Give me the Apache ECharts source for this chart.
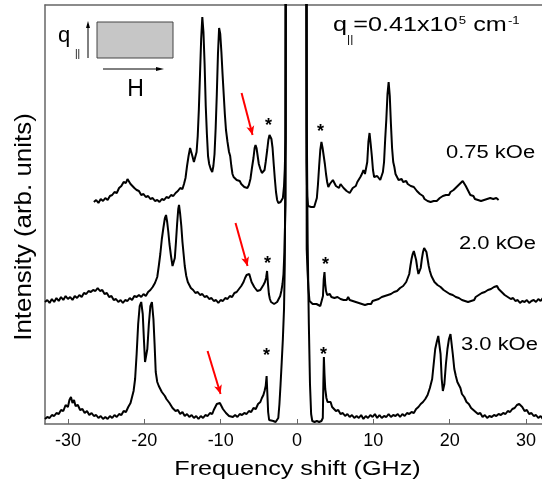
<!DOCTYPE html>
<html><head><meta charset="utf-8">
<script src="https://cdn.jsdelivr.net/npm/echarts@6/dist/echarts.min.js"></script>
<style>html,body{margin:0;padding:0;background:#fff}#c{width:542px;height:488px}</style>
</head><body><div id="c"></div>
<script>
const FONT = '"Liberation Sans", Arial, Helvetica, sans-serif';

// x-axis tick labels (GHz)
const xTicks = [-30, -20, -10, 0, 10, 20, 30];
const fieldLabels = ['0.75 kOe', '2.0 kOe', '3.0 kOe'];

// spectra: [frequency shift (GHz), intensity (arb. units, vertically offset)]
const spec075 = [[-26.6,222],[-26.3,224],[-26.0,221],[-25.7,225],[-25.4,223],[-25.1,226],[-24.8,224],[-24.5,228],[-24.2,229],[-23.9,232],[-23.6,231],[-23.3,236],[-23.0,238],[-22.7,242],[-22.4,241],[-22.2,245],[-22.0,243],[-21.8,240],[-21.6,241],[-21.3,236],[-21.0,234],[-20.7,233],[-20.4,229],[-20.1,230],[-19.8,227],[-19.5,228],[-19.2,225],[-18.9,226],[-18.6,223],[-18.3,224],[-18.0,222],[-17.7,225],[-17.4,224],[-17.1,227],[-16.8,226],[-16.5,229],[-16.2,228],[-15.9,231],[-15.6,233],[-15.3,236],[-15.0,235],[-14.8,240],[-14.6,246],[-14.4,258],[-14.2,268],[-14.0,276],[-13.85,277],[-13.7,268],[-13.5,262],[-13.3,261],[-13.15,272],[-13.0,288],[-12.85,315],[-12.7,350],[-12.55,385],[-12.4,407],[-12.25,392],[-12.1,360],[-11.95,318],[-11.8,290],[-11.65,268],[-11.5,260],[-11.3,255],[-11.1,252],[-10.95,258],[-10.8,270],[-10.65,296],[-10.5,330],[-10.35,370],[-10.2,396],[-10.05,390],[-9.9,372],[-9.75,350],[-9.6,330],[-9.45,310],[-9.3,294],[-9.1,282],[-8.9,272],[-8.75,268],[-8.6,258],[-8.45,250],[-8.3,247],[-8.1,245],[-7.9,244],[-7.7,242],[-7.5,243],[-7.3,240],[-7.1,239],[-6.9,237],[-6.7,238],[-6.5,236],[-6.3,239],[-6.1,245],[-5.9,256],[-5.7,266],[-5.55,276],[-5.43,279],[-5.3,276],[-5.15,268],[-5.0,260],[-4.8,255],[-4.6,251],[-4.4,249],[-4.25,254],[-4.1,262],[-3.9,274],[-3.75,284],[-3.6,289],[-3.47,291],[-3.35,285],[-3.2,276],[-3.05,260],[-2.9,245],[-2.75,232],[-2.6,224],[-2.45,221],[-2.3,220],[-2.15,222],[-2.0,221],[-1.85,226],[-1.7,238],[-1.6,255],[-1.5,285],[-1.42,700],[-0.15,30000],[1.18,700],[1.25,262],[1.33,228],[1.45,218],[1.65,216],[1.85,217],[2.05,215],[2.25,217],[2.45,218],[2.6,226],[2.75,240],[2.9,258],[3.05,274],[3.2,282],[3.35,276],[3.5,268],[3.65,260],[3.8,250],[3.95,242],[4.1,237],[4.3,240],[4.5,242],[4.7,244],[4.9,241],[5.1,238],[5.3,237],[5.5,236],[5.7,240],[5.9,241],[6.1,236],[6.3,234],[6.5,233],[6.7,231],[6.9,231],[7.1,233],[7.3,236],[7.5,235],[7.7,238],[7.9,242],[8.1,244],[8.3,247],[8.5,250],[8.7,254],[8.9,250],[9.05,248],[9.2,262],[9.35,282],[9.5,291],[9.65,280],[9.8,268],[9.95,254],[10.1,247],[10.3,249],[10.5,248],[10.7,246],[10.9,244],[11.1,245],[11.25,252],[11.4,262],[11.55,285],[11.7,305],[11.85,330],[12.0,342],[12.15,328],[12.3,300],[12.45,276],[12.6,262],[12.75,257],[12.9,250],[13.1,248],[13.3,244],[13.5,246],[13.7,245],[13.9,242],[14.1,241],[14.3,243],[14.5,240],[14.7,241],[14.9,238],[15.1,239],[15.3,237],[15.5,236],[15.7,233],[15.9,231],[16.1,230],[16.3,228],[16.5,228],[16.7,225],[16.9,226],[17.1,223],[17.3,225],[17.5,222],[17.7,224],[17.9,223],[18.1,225],[18.3,223],[18.5,224],[18.7,226],[18.9,225],[19.1,228],[19.3,227],[19.5,229],[19.7,230],[19.9,229],[20.1,232],[20.3,231],[20.5,234],[20.7,235],[20.9,237],[21.1,238],[21.3,240],[21.5,241],[21.7,243],[21.9,241],[22.1,238],[22.3,235],[22.5,232],[22.7,229],[22.9,227],[23.1,228],[23.3,225],[23.5,226],[23.7,224],[23.9,226],[24.1,223],[24.3,225],[24.5,224],[24.7,222],[24.9,225],[25.1,223],[25.3,226],[25.5,224],[25.7,225],[25.9,223],[26.1,226],[26.4,224]];

const spec20 = [[-33.0,122],[-32.7,124],[-32.4,121],[-32.1,125],[-31.8,122],[-31.5,126],[-31.2,123],[-30.9,127],[-30.6,124],[-30.3,128],[-30.0,125],[-29.7,127],[-29.4,124],[-29.1,128],[-28.8,126],[-28.5,129],[-28.2,127],[-27.9,131],[-27.6,130],[-27.3,133],[-27.0,132],[-26.7,134],[-26.4,133],[-26.1,136],[-25.8,133],[-25.5,134],[-25.2,130],[-24.9,131],[-24.6,127],[-24.3,128],[-24.0,124],[-23.7,125],[-23.4,122],[-23.1,124],[-22.8,121],[-22.5,124],[-22.2,123],[-21.9,126],[-21.6,124],[-21.3,128],[-21.0,127],[-20.7,129],[-20.4,127],[-20.1,130],[-19.8,128],[-19.5,132],[-19.2,134],[-18.9,137],[-18.6,141],[-18.3,147],[-18.1,158],[-17.9,170],[-17.7,185],[-17.5,196],[-17.3,206],[-17.15,209],[-17.0,202],[-16.85,192],[-16.7,180],[-16.5,168],[-16.3,158],[-16.15,157],[-16.0,166],[-15.85,182],[-15.7,200],[-15.55,215],[-15.45,219],[-15.3,210],[-15.15,198],[-15.0,182],[-14.85,170],[-14.7,158],[-14.5,148],[-14.3,142],[-14.1,139],[-13.9,136],[-13.6,134],[-13.3,131],[-13.0,132],[-12.7,129],[-12.4,130],[-12.1,127],[-11.8,128],[-11.5,125],[-11.2,126],[-10.9,123],[-10.6,124],[-10.3,121],[-10.0,124],[-9.7,123],[-9.4,126],[-9.1,125],[-8.8,128],[-8.5,127],[-8.2,131],[-7.9,132],[-7.6,135],[-7.3,138],[-7.0,142],[-6.8,146],[-6.6,149],[-6.4,151],[-6.25,150],[-6.1,146],[-5.95,142],[-5.8,140],[-5.6,137],[-5.4,135],[-5.2,133],[-5.0,132],[-4.8,134],[-4.6,136],[-4.4,139],[-4.2,142],[-4.05,146],[-3.92,153],[-3.8,140],[-3.68,130],[-3.55,125],[-3.4,122],[-3.2,121],[-3.0,120],[-2.8,121],[-2.6,122],[-2.4,124],[-2.2,128],[-2.05,133],[-1.9,140],[-1.77,150],[-1.65,172],[-1.5,220],[-1.43,700],[-0.15,30000],[1.2,700],[1.27,175],[1.37,154],[1.5,135],[1.64,123],[1.85,121],[2.05,120],[2.3,119],[2.55,120],[2.8,119],[3.05,118],[3.25,119],[3.4,128],[3.5,145],[3.6,152],[3.7,140],[3.8,133],[3.95,129],[4.1,128],[4.3,130],[4.5,127],[4.7,129],[4.9,126],[5.1,128],[5.3,127],[5.5,129],[5.7,125],[5.9,127],[6.1,124],[6.3,126],[6.5,124],[6.7,127],[6.9,124],[7.1,126],[7.3,123],[7.5,125],[7.7,122],[7.9,124],[8.1,121],[8.3,123],[8.5,120],[8.7,122],[8.9,119],[9.1,121],[9.3,120],[9.5,122],[9.7,120],[9.9,123],[10.1,121],[10.3,124],[10.5,123],[10.7,125],[10.9,124],[11.1,127],[11.3,126],[11.5,128],[11.7,127],[11.9,129],[12.1,128],[12.3,130],[12.5,129],[12.7,132],[12.9,131],[13.1,133],[13.3,134],[13.5,136],[13.7,135],[13.9,138],[14.1,137],[14.3,142],[14.5,146],[14.7,150],[14.85,158],[15.0,165],[15.15,170],[15.3,173],[15.45,171],[15.6,164],[15.75,156],[15.9,150],[16.05,148],[16.2,156],[16.35,165],[16.5,172],[16.65,176],[16.8,177],[16.95,172],[17.1,165],[17.25,158],[17.4,153],[17.6,148],[17.8,146],[18.0,142],[18.2,141],[18.4,139],[18.6,140],[18.8,137],[19.0,136],[19.2,134],[19.4,135],[19.6,132],[19.8,133],[20.0,130],[20.2,131],[20.4,129],[20.6,130],[20.8,127],[21.0,128],[21.2,126],[21.4,127],[21.6,124],[21.8,126],[22.0,123],[22.2,125],[22.4,122],[22.6,124],[22.8,123],[23.0,125],[23.2,124],[23.4,127],[23.6,126],[23.8,129],[24.0,128],[24.2,131],[24.4,130],[24.6,132],[24.8,131],[25.0,134],[25.2,133],[25.4,135],[25.6,134],[25.8,137],[26.0,136],[26.2,138],[26.4,135],[26.6,136],[26.8,132],[27.0,133],[27.2,129],[27.4,130],[27.6,127],[27.8,128],[28.0,125],[28.3,126],[28.6,123],[28.9,124],[29.2,121],[29.5,123],[29.8,122],[30.1,124],[30.4,121],[30.7,123],[31.0,124],[31.3,122],[31.6,125],[31.9,123],[32.2,126],[32.6,124],[33.0,125]];

const spec30 = [[-33.0,5],[-32.7,7],[-32.4,6],[-32.1,9],[-31.8,8],[-31.5,11],[-31.2,10],[-30.9,14],[-30.6,13],[-30.3,19],[-30.0,17],[-29.8,24],[-29.6,27],[-29.4,21],[-29.2,24],[-29.0,18],[-28.7,19],[-28.4,14],[-28.1,15],[-27.8,11],[-27.5,13],[-27.2,9],[-26.9,11],[-26.6,8],[-26.3,9],[-26.0,6],[-25.7,8],[-25.4,5],[-25.1,7],[-24.8,5],[-24.5,8],[-24.2,6],[-23.9,9],[-23.6,7],[-23.3,10],[-23.0,9],[-22.7,13],[-22.4,12],[-22.1,17],[-21.8,21],[-21.6,27],[-21.4,33],[-21.2,45],[-21.0,70],[-20.8,100],[-20.6,118],[-20.4,122],[-20.2,110],[-20.05,85],[-19.9,62],[-19.75,60],[-19.6,75],[-19.4,100],[-19.2,118],[-19.0,122],[-18.8,105],[-18.65,80],[-18.5,52],[-18.3,42],[-18.1,38],[-17.9,36],[-17.7,32],[-17.5,34],[-17.3,28],[-17.1,25],[-16.9,26],[-16.7,21],[-16.5,20],[-16.3,16],[-16.1,18],[-15.9,13],[-15.6,14],[-15.3,10],[-15.0,12],[-14.7,8],[-14.4,10],[-14.1,7],[-13.8,9],[-13.5,6],[-13.2,8],[-12.9,5],[-12.6,8],[-12.3,6],[-12.0,9],[-11.7,8],[-11.4,11],[-11.1,10],[-10.9,14],[-10.7,16],[-10.5,20],[-10.3,18],[-10.1,21],[-9.9,19],[-9.7,15],[-9.5,14],[-9.3,11],[-9.1,12],[-8.9,8],[-8.7,10],[-8.4,7],[-8.1,9],[-7.8,7],[-7.5,10],[-7.2,9],[-6.9,11],[-6.6,10],[-6.3,13],[-6.0,12],[-5.7,16],[-5.4,15],[-5.1,20],[-4.8,22],[-4.6,26],[-4.4,29],[-4.25,33],[-4.1,38],[-3.98,48],[-3.88,30],[-3.78,12],[-3.65,4],[-3.4,2],[-3.1,3],[-2.8,2],[-2.6,4],[-2.45,6],[-2.3,20],[-2.15,40],[-2.0,62],[-1.85,85],[-1.7,115],[-1.6,160],[-1.5,300],[-1.43,1500],[-0.15,30000],[1.2,1500],[1.28,300],[1.4,180],[1.55,100],[1.7,40],[1.85,10],[2.0,3],[2.3,2],[2.6,3],[2.9,2],[3.2,3],[3.38,6],[3.45,40],[3.52,67],[3.6,50],[3.7,35],[3.85,26],[4.0,22],[4.2,20],[4.4,22],[4.6,17],[4.8,16],[5.1,13],[5.4,14],[5.7,10],[6.0,11],[6.3,8],[6.6,10],[6.9,7],[7.2,9],[7.5,6],[7.8,8],[8.1,6],[8.4,9],[8.7,5],[9.0,8],[9.3,6],[9.6,9],[9.9,7],[10.2,10],[10.5,6],[10.8,9],[11.1,6],[11.4,8],[11.7,7],[12.0,10],[12.3,7],[12.6,9],[12.9,8],[13.2,10],[13.5,7],[13.8,10],[14.1,8],[14.4,11],[14.7,10],[15.0,12],[15.3,11],[15.6,15],[15.9,17],[16.2,20],[16.5,22],[16.8,25],[17.1,29],[17.4,36],[17.7,45],[17.9,60],[18.1,75],[18.3,82],[18.5,88],[18.65,87],[18.8,70],[18.95,45],[19.1,33],[19.3,40],[19.5,60],[19.7,75],[19.9,85],[20.1,90],[20.25,88],[20.4,70],[20.6,55],[20.8,48],[21.0,42],[21.2,40],[21.4,36],[21.6,30],[21.9,27],[22.2,22],[22.5,20],[22.8,16],[23.1,14],[23.4,12],[23.7,10],[24.0,11],[24.3,7],[24.6,9],[24.9,6],[25.2,8],[25.5,7],[25.8,9],[26.1,8],[26.4,10],[26.7,9],[27.0,11],[27.3,10],[27.6,13],[27.9,12],[28.2,15],[28.5,16],[28.8,19],[29.1,20],[29.3,18],[29.5,17],[29.8,13],[30.1,14],[30.4,10],[30.7,11],[31.0,8],[31.3,9],[31.6,6],[31.9,8],[32.2,5],[32.5,7],[33.0,6]];

// asterisk annotations (GHz, intensity) per spectrum
const stars075 = [[-3.73, 302], [3.08, 296]];
const stars20 = [[-3.86, 164], [3.73, 163]];
const stars30 = [[-3.99, 72], [3.47, 73]];

// red arrows: [start, tip]
const arrow075 = [[-7.26, 331], [-5.82, 289]];
const arrow20 = [[-8.05, 201], [-6.48, 158]];
const arrow30 = [[-11.71, 73], [-10.01, 30]];

function starMarks(list) {
  return {
    symbol: 'circle', symbolSize: 1, silent: true, animation: false,
    itemStyle: { color: 'rgba(0,0,0,0)' },
    label: { show: true, formatter: '*', position: 'inside', color: '#000', fontSize: 18, fontWeight: 'bold', fontFamily: FONT, offset: [0, 4] },
    data: list.map(p => ({ coord: p }))
  };
}
function arrowMark(a) {
  return {
    silent: true, animation: false,
    symbol: ['none', 'arrow'], symbolSize: [6, 9],
    lineStyle: { color: '#ff0000', width: 2, type: 'solid' },
    label: { show: false },
    emphasis: { disabled: true },
    data: [[{ coord: a[0] }, { coord: a[1] }]]
  };
}
function spectrum(name, data, stars, arrow) {
  return {
    name, type: 'line', data, showSymbol: false, symbol: 'none', silent: true,
    clip: true, animation: false,
    lineStyle: { color: '#000', width: 2 },
    itemStyle: { color: '#000' },
    emphasis: { disabled: true },
    markPoint: starMarks(stars),
    markLine: arrowMark(arrow)
  };
}

const chart = echarts.init(document.getElementById('c'), null, { renderer: 'canvas' });
const axisGrey = '#666';
chart.setOption({
  backgroundColor: '#fff',
  animation: false,
  grid: { left: 45, top: 5, width: 504, height: 419, containLabel: false, outerBoundsMode: 'none' },
  xAxis: [{
    type: 'value', min: -33, max: 33, position: 'bottom',
    axisLine: { show: true, onZero: false, lineStyle: { color: axisGrey, width: 1.5 } },
    axisTick: { show: true, inside: true, length: 5, lineStyle: { color: axisGrey, width: 1 } },
    axisLabel: { show: true, color: '#000', fontSize: 18, fontFamily: FONT, margin: 8,
      showMinLabel: false, showMaxLabel: false,
      formatter: v => (xTicks.indexOf(v) >= 0 ? String(v) : '') },
    splitLine: { show: false }
  }, {
    type: 'value', min: -33, max: 33, position: 'top',
    axisLine: { show: true, onZero: false, lineStyle: { color: axisGrey, width: 1.5 } },
    axisTick: { show: false }, axisLabel: { show: false }, splitLine: { show: false }
  }],
  yAxis: {
    type: 'value', min: 0, max: 419,
    axisLine: { show: true, onZero: false, lineStyle: { color: axisGrey, width: 1.5 } },
    axisTick: { show: false }, axisLabel: { show: false }, splitLine: { show: false }
  },
  series: [
    spectrum(fieldLabels[0], spec075, stars075, arrow075),
    spectrum(fieldLabels[1], spec20, stars20, arrow20),
    spectrum(fieldLabels[2], spec30, stars30, arrow30)
  ],
  graphic: [
    // axis titles
    { type: 'text', x: 297.5, y: 469, scaleX: 1.2, silent: true,
      style: { text: 'Frequency shift (GHz)', font: '21px ' + FONT, fill: '#000', align: 'center', verticalAlign: 'middle' } },
    { type: 'text', x: 24, y: 227, rotation: Math.PI / 2, scaleX: 1.08, silent: true,
      style: { text: 'Intensity (arb. units)', font: '24px ' + FONT, fill: '#000', align: 'center', verticalAlign: 'middle' } },
    // field labels
    { type: 'text', x: 446, y: 153, scaleX: 1.22, silent: true,
      style: { text: fieldLabels[0], font: '18px ' + FONT, fill: '#000', align: 'left', verticalAlign: 'middle' } },
    { type: 'text', x: 459, y: 244, scaleX: 1.22, silent: true,
      style: { text: fieldLabels[1], font: '18px ' + FONT, fill: '#000', align: 'left', verticalAlign: 'middle' } },
    { type: 'text', x: 461, y: 345, scaleX: 1.22, silent: true,
      style: { text: fieldLabels[2], font: '18px ' + FONT, fill: '#000', align: 'left', verticalAlign: 'middle' } },
    // wavevector label
    { type: 'text', x: 333, y: 10, scaleX: 1.2, silent: true,
      style: {
        text: '{a|q}{s|||}{a|=0.41x10}{p|5}{a| cm}{p|-1}',
        align: 'left', verticalAlign: 'top', fill: '#000',
        rich: {
          a: { fontSize: 21, fontFamily: FONT, lineHeight: 22, padding: [5, 0, 0, 0], verticalAlign: 'top', fill: '#000', color: '#000' },
          s: { fontSize: 10, fontFamily: FONT, lineHeight: 12, padding: [25, 0, 0, 0], verticalAlign: 'top', fill: '#000', color: '#000' },
          p: { fontSize: 11, fontFamily: FONT, lineHeight: 12, padding: [5, 0, 0, 1], verticalAlign: 'top', fill: '#000', color: '#000' }
        }
      } },
    // inset: sample, q arrow, H arrow
    { type: 'rect', silent: true, shape: { x: 97, y: 22, width: 76, height: 36 },
      style: { fill: '#c6c6c6', stroke: '#444', lineWidth: 1 } },
    { type: 'line', silent: true, shape: { x1: 88, y1: 58, x2: 88, y2: 26 }, style: { stroke: '#000', lineWidth: 1 } },
    { type: 'polygon', silent: true, shape: { points: [[86, 28], [88, 21], [90, 28]] }, style: { fill: '#000' } },
    { type: 'line', silent: true, shape: { x1: 103, y1: 69, x2: 158, y2: 69 }, style: { stroke: '#000', lineWidth: 1 } },
    { type: 'polygon', silent: true, shape: { points: [[156, 67], [164, 69], [156, 71]] }, style: { fill: '#000' } },
    { type: 'text', x: 58, y: 36, silent: true,
      style: { text: 'q', font: '22px ' + FONT, fill: '#000', align: 'left', verticalAlign: 'middle' } },
    { type: 'text', x: 75, y: 54, silent: true,
      style: { text: '||', font: '10px ' + FONT, fill: '#000', align: 'left', verticalAlign: 'middle' } },
    { type: 'text', x: 135.5, y: 90, silent: true,
      style: { text: 'H', font: '23px ' + FONT, fill: '#000', align: 'center', verticalAlign: 'middle' } }
  ]
});
</script>
</body></html>
